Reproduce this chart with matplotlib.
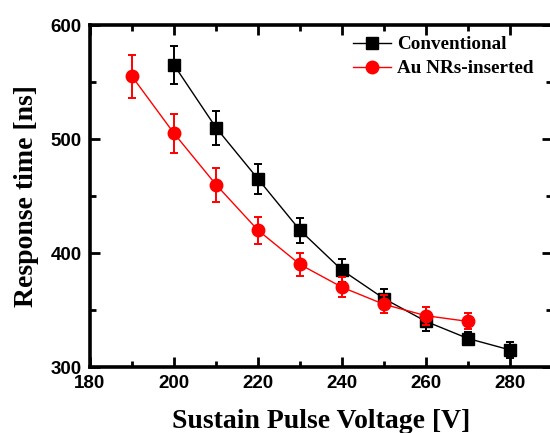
import matplotlib
matplotlib.use("Agg")
import matplotlib.pyplot as plt
from matplotlib.ticker import MultipleLocator

# data
volt_conv = [200, 210, 220, 230, 240, 250, 260, 270, 280]
resp_conv = [565, 510, 465, 420, 385, 360, 340, 325, 315]
err_conv = [17, 15, 13, 11, 10, 8, 8, 6, 7]

volt_au = [190, 200, 210, 220, 230, 240, 250, 260, 270]
resp_au = [555, 505, 460, 420, 390, 370, 355, 345, 340]
err_au = [19, 17, 15, 12, 10, 9, 8, 8, 7]

fig = plt.figure(figsize=(5.5, 4.33), dpi=100)
ax = fig.add_axes([0.1636, 0.1524, 0.84, 0.7898])

ax.errorbar(volt_conv, resp_conv, yerr=err_conv, color="black", marker="s",
            markersize=8, lw=1.0, elinewidth=1.4, capsize=3, capthick=1.4,
            label="Conventional", zorder=3)
ax.errorbar(volt_au, resp_au, yerr=err_au, color="red", marker="o",
            markersize=9, lw=1.0, elinewidth=1.4, capsize=3, capthick=1.4,
            label="Au NRs-inserted", zorder=4)

ax.set_xlim(180, 290)
ax.set_ylim(300, 600)
ax.xaxis.set_major_locator(MultipleLocator(20))
ax.xaxis.set_minor_locator(MultipleLocator(10))
ax.yaxis.set_major_locator(MultipleLocator(100))
ax.yaxis.set_minor_locator(MultipleLocator(50))
ax.tick_params(which="both", direction="in", top=True, right=True, width=2)
ax.tick_params(which="major", length=7, labelsize=13.5, pad=6)
ax.tick_params(which="minor", length=4)
for lbl in ax.get_xticklabels() + ax.get_yticklabels():
    lbl.set_family("Liberation Sans")
    lbl.set_fontweight("bold")
for sp in ax.spines.values():
    sp.set_linewidth(2.6)

ax.set_xlabel("Sustain Pulse Voltage [V]", family="Liberation Serif",
              fontweight="bold", fontsize=20, labelpad=12)
ax.set_ylabel("Response time [ns]", family="Liberation Serif",
              fontweight="bold", fontsize=20, labelpad=8)

handles, labels = ax.get_legend_handles_labels()
handles = [h[0] for h in handles]
ax.legend(handles, labels, loc="upper left", bbox_to_anchor=(0.642, 0.917),
          bbox_transform=fig.transFigure, frameon=False, borderpad=0, borderaxespad=0,
          prop={"family": "Liberation Serif", "weight": "bold", "size": 13.8},
          handlelength=2.0, handletextpad=0.3, labelspacing=0.35)

fig.savefig("out.png", dpi=100)
